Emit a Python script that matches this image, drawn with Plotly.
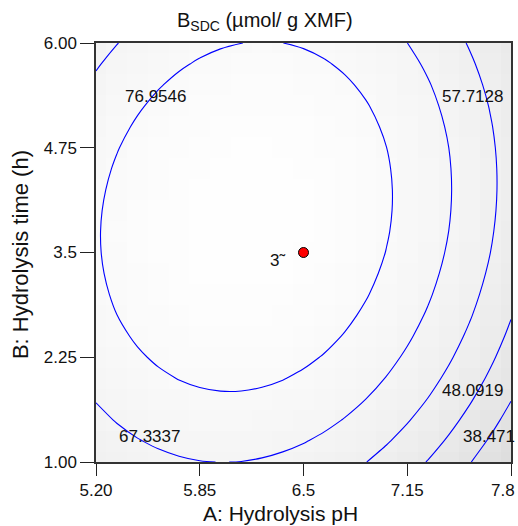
import numpy as np
import plotly.graph_objects as go

# Quadratic response-surface model:
# B_SDC = c0 + c1*A + c2*B + c11*A^2 + c22*B^2 + c12*A*B
model_coef = [-372.0, 142.5011, 10.7853, -11.9781, -2.2995, 1.1864]

a_range = [5.2, 7.8]
b_range = [1.0, 6.0]
x_tickvals = [5.2, 5.85, 6.5, 7.15, 7.8]
x_ticktext = ["5.20", "5.85", "6.5", "7.15", "7.8"]
y_tickvals = [1.0, 2.25, 3.5, 4.75, 6.0]
y_ticktext = ["1.00", "2.25", "3.5", "4.75", "6.00"]

contour_levels = [38.471, 48.0919, 57.7128, 67.3337, 76.9546]
label_text = ["38.471", "48.0919", "57.7128", "67.3337", "76.9546"]
label_a = [7.662, 7.556, 7.556, 5.538, 5.57]
label_b = [1.31, 1.859, 5.356, 1.31, 5.356]

design_a = [6.5]
design_b = [3.5]
design_label = "3˜"

a_vals = np.linspace(a_range[0], a_range[1], 21)
b_vals = np.linspace(b_range[0], b_range[1], 21)
AA, BB = np.meshgrid(a_vals, b_vals)
c = model_coef
Z = c[0] + c[1]*AA + c[2]*BB + c[3]*AA**2 + c[4]*BB**2 + c[5]*AA*BB

FONT = "Arial, Liberation Sans, Helvetica, sans-serif"

fig = go.Figure()
fig.add_trace(go.Heatmap(x=a_vals, y=b_vals, z=Z, zmin=30, zmax=88, showscale=False,
                         colorscale=[[0, '#dedede'], [0.45, '#efefef'], [1, '#ffffff']],
                         hoverinfo='skip'))
fig.add_trace(go.Contour(x=a_vals, y=b_vals, z=Z,
                         contours=dict(coloring='none', start=contour_levels[0],
                                       end=contour_levels[-1],
                                       size=contour_levels[1]-contour_levels[0]),
                         line=dict(color='#0000ff', width=1.1), showscale=False,
                         hoverinfo='skip'))
fig.add_trace(go.Scatter(x=design_a, y=design_b, mode='markers',
                         marker=dict(color='#ff0000', size=10,
                                     line=dict(color='black', width=1)),
                         showlegend=False))

for t, a, b in zip(label_text, label_a, label_b):
    fig.add_annotation(x=a, y=b, text=t, showarrow=False,
                       font=dict(family=FONT, size=17, color='#111'))
fig.add_annotation(x=6.34, y=3.40, text=design_label, showarrow=False,
                   font=dict(family=FONT, size=17, color='#111'))

# last x tick label sits flush with the page edge
x_tick_shown = x_ticktext[:-1] + [""]
fig.add_annotation(xref='paper', yref='paper', x=1.0145, y=-0.067, xanchor='right',
                   yanchor='middle', showarrow=False, text=x_ticktext[-1],
                   font=dict(family=FONT, size=17, color='#111'))

# titles
fig.add_annotation(xref='paper', yref='paper', x=0.19, y=1.052, xanchor='left',
                   yanchor='middle', showarrow=False,
                   text="B<sub>SDC</sub> (µmol/ g XMF)",
                   font=dict(family=FONT, size=20, color='#111'))
fig.add_annotation(xref='paper', yref='paper', x=0.4446, y=-0.122, xanchor='center',
                   yanchor='middle', showarrow=False, text="A: Hydrolysis pH",
                   font=dict(family=FONT, size=21, color='#111'))
fig.add_annotation(xref='paper', yref='paper', x=-0.183, y=0.494, xanchor='center',
                   yanchor='middle', showarrow=False, textangle=-90,
                   text="B: Hydrolysis time (h)",
                   font=dict(family=FONT, size=22, color='#111'))

fig.update_layout(width=518, height=526, margin=dict(l=96, r=7, t=43, b=64),
                  plot_bgcolor='white', paper_bgcolor='white', showlegend=False,
                  font=dict(family=FONT, color='#111'))
fig.update_xaxes(range=a_range, showgrid=False, zeroline=False, tickvals=x_tickvals,
                 ticktext=x_tick_shown, ticks='outside', ticklen=12, tickcolor='#222',
                 tickwidth=1.3, showline=True, linecolor='#333', linewidth=1.5,
                 mirror=True, ticklabeloverflow='allow', automargin=False,
                 tickfont=dict(size=17, family=FONT, color='#111'))
fig.update_yaxes(range=b_range, showgrid=False, zeroline=False, tickvals=y_tickvals,
                 ticktext=y_ticktext, ticks='outside', ticklen=14, tickcolor='#222',
                 tickwidth=1.3, showline=True, linecolor='#333', linewidth=1.5,
                 mirror=True, ticklabeloverflow='allow', automargin=False,
                 tickfont=dict(size=17, family=FONT, color='#111'))
fig.write_html("out.html")
